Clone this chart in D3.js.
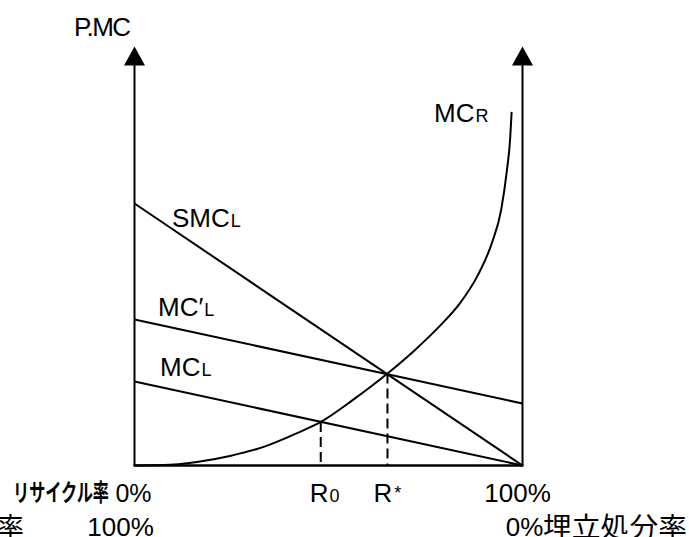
<!DOCTYPE html>
<html><head><meta charset="utf-8">
<script src="https://cdn.jsdelivr.net/npm/d3@7"></script>
<style>
html,body{margin:0;padding:0;background:#fff;}
svg{display:block;}
text{font-family:"Liberation Sans",Arial,sans-serif;fill:#000;}
.jp{font-family:"Noto Sans CJK JP",sans-serif;}
</style></head>
<body>
<svg id="chart" width="689" height="537"></svg>
<script>
// ---- data ----
const recycleDomain = [0, 100];          // リサイクル率 (%)
const priceDomain = [0, 100];            // P.MC
const axisTop = 104.75;                  // arrow tip value
const smcLx = [0, 100], smcLy = [65.5, 0];
const mcLpx = [0, 100], mcLpy = [36.5, 15.5];
const mcLx = [0, 100], mcLy = [21, 0];
const mcRx = [0, 7.35, 16.1, 24.6, 33.1, 41.9, 48, 56.3, 65.2, 72.3, 78.7, 83.9, 88.5, 92.1, 94.5, 96.0, 96.8, 97.2];
const mcRy = [0, 0.1, 0.9, 2.4, 4.6, 8.1, 10.9, 16.4, 23, 28.9, 34.9, 40.6, 47.6, 55.6, 63.9, 73.9, 81.4, 88.4];
const dropX = [48, 65.2];                // R0, R*
const dropY = [10.9, 23];
const bottomTop = ["0%", "100%"];        // recycling rate ticks
const bottomBot = ["100%", "0%"];        // landfill rate ticks

const svg = d3.select("#chart");
const x = d3.scaleLinear().domain(recycleDomain).range([134.5, 522.5]);
const y = d3.scaleLinear().domain(priceDomain).range([465.5, 65.5]);

const toPts = (xs, ys) => xs.map((v, i) => [v, ys[i]]);
const line = d3.line().x(d => x(d[0])).y(d => y(d[1]));

// axes
[0, 100].forEach(v => {
  svg.append("line").attr("x1", x(v)).attr("x2", x(v)).attr("y1", y(0)).attr("y2", y(100) - 1)
    .attr("stroke", "#000").attr("stroke-width", 2);
  const tx = x(v), ty = y(axisTop);
  svg.append("path").attr("d", `M${tx},${ty} L${tx - 10.5},${y(100)} L${tx + 10.5},${y(100)} Z`).attr("fill", "#000");
});
svg.append("line").attr("x1", x(0) - 1).attr("x2", x(100) + 1).attr("y1", y(0)).attr("y2", y(0))
  .attr("stroke", "#000").attr("stroke-width", 2.5);

// straight lines
[[smcLx, smcLy], [mcLpx, mcLpy], [mcLx, mcLy]].forEach(([xs, ys]) => {
  svg.append("path").attr("d", line(toPts(xs, ys))).attr("fill", "none")
    .attr("stroke", "#000").attr("stroke-width", 2);
});
// MC_R curve
svg.append("path").attr("d", line.curve(d3.curveMonotoneX)(toPts(mcRx, mcRy))).attr("fill", "none")
  .attr("stroke", "#000").attr("stroke-width", 2);

// dashed drops
dropX.forEach((v, i) => {
  svg.append("line").attr("x1", x(v)).attr("x2", x(v)).attr("y1", y(dropY[i])).attr("y2", y(0))
    .attr("stroke", "#000").attr("stroke-width", 2).attr("stroke-dasharray", "10,5");
});

// labels
function lab(px, py, main, sub, opts = {}) {
  const t = svg.append("text").attr("x", px).attr("y", py).attr("font-size", 26);
  t.append("tspan").text(main);
  if (sub) t.append("tspan").attr("font-size", opts.subSize || 18).attr("dx", opts.dx || 1).attr("dy", opts.dy || 0).text(sub);
  return t;
}
svg.append("text").attr("x", 74).attr("y", 36).attr("font-size", 26).attr("letter-spacing", -1.5).text("P.MC");
lab(434, 122, "MC", "R");
lab(172, 227, "SMC", "L");
lab(158, 316, "MC′", "L");
lab(160, 376, "MC", "L");
lab(x(dropX[0]) - 11, 502, "R", "0");
lab(x(dropX[1]) - 14, 502, "R", "*", { dy: -3, dx: 2 });

// bottom ticks
svg.append("text").attr("x", x(0) - 1).attr("y", 502).attr("text-anchor", "middle").attr("font-size", 25).text(bottomTop[0]);
svg.append("text").attr("x", x(100) - 5).attr("y", 502).attr("text-anchor", "middle").attr("font-size", 26).text(bottomTop[1]);
svg.append("text").attr("x", x(0) - 14).attr("y", 536).attr("text-anchor", "middle").attr("font-size", 26).text(bottomBot[0]);
svg.append("text").attr("x", x(100) + 2).attr("y", 536).attr("text-anchor", "middle").attr("font-size", 26).text(bottomBot[1]);

svg.append("text").attr("class", "jp").attr("x", 13).attr("y", 501).attr("font-size", 24)
  .attr("font-weight", 700).attr("textLength", 96).attr("lengthAdjust", "spacingAndGlyphs").text("リサイクル率");
svg.append("text").attr("class", "jp").attr("x", 543).attr("y", 537).attr("font-size", 27)
  .attr("font-weight", 400).attr("textLength", 144).attr("lengthAdjust", "spacingAndGlyphs").text("埋立処分率");
svg.append("text").attr("class", "jp").attr("x", 24).attr("y", 537).attr("text-anchor", "end").attr("font-size", 27)
  .attr("font-weight", 400).text("率");
</script>
</body></html>
